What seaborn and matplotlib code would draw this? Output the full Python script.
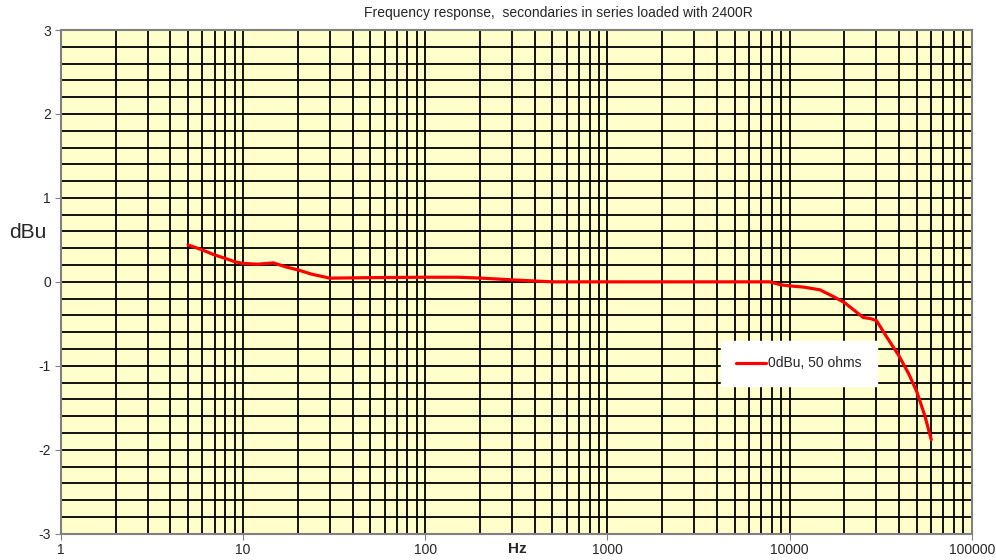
import numpy as np
import pandas as pd
import matplotlib
matplotlib.use("Agg")
import matplotlib.pyplot as plt
import matplotlib.ticker as mticker
import seaborn as sns

# Data
freq_hz = [5, 6, 7, 8, 9, 10, 12, 14.7, 17.4, 20, 24, 30, 50, 100, 150, 200, 300, 400, 500,
           1000, 2000, 5000, 7800, 9000, 10000, 12000, 14700, 17400, 20000,
           23000, 25400, 27700, 30000, 34000, 39600, 45000, 50000, 55400, 60000]
level_dbu = [0.44, 0.38, 0.32, 0.28, 0.24, 0.22, 0.21, 0.226, 0.175, 0.143, 0.09, 0.044, 0.05,
             0.055, 0.055, 0.045, 0.024, 0.01, 0.0,
             0.0, 0.0, 0.0, 0.0, -0.036, -0.048, -0.063, -0.095, -0.175, -0.246,
             -0.35, -0.425, -0.437, -0.46, -0.65, -0.87, -1.09, -1.31, -1.60, -1.88]
series_name = "0dBu, 50 ohms"

df = pd.DataFrame({"Hz": freq_hz, "dBu": level_dbu, "series": series_name})

sns.set_style("white")
plt.rcParams["font.family"] = ["Liberation Sans", "DejaVu Sans"]
plt.rcParams["axes.unicode_minus"] = False

fig = plt.figure(figsize=(9.96, 5.6), dpi=100)
ax = fig.add_axes([60.7 / 996, 1 - 533.7 / 560, 911 / 996, 503.7 / 560])
ax.set_facecolor("#FFFFCC")

sns.lineplot(data=df, x="Hz", y="dBu", hue="series", palette=["#FF0000"],
             linewidth=2.3, ax=ax)
ax.get_lines()[0].set_solid_joinstyle("round")

ax.set_xscale("log")
ax.set_xlim(1, 100000)
ax.set_ylim(-3, 3)
ax.xaxis.set_major_locator(mticker.LogLocator(base=10))
ax.xaxis.set_minor_locator(mticker.LogLocator(base=10, subs=np.arange(2, 10)))
ax.xaxis.set_major_formatter(mticker.FuncFormatter(lambda v, p: f"{int(round(v))}"))
ax.xaxis.set_minor_formatter(mticker.NullFormatter())
ax.yaxis.set_major_locator(mticker.MultipleLocator(1))
ax.yaxis.set_minor_locator(mticker.MultipleLocator(0.2))

ax.grid(which="both", color="black", linewidth=1.3)
ax.set_axisbelow(True)
ax.tick_params(which="major", direction="out", length=4, color="#808080",
               labelsize=10, pad=3, bottom=True, left=True)
ax.tick_params(which="minor", length=0)

for side in ["left", "bottom", "top", "right"]:
    ax.spines[side].set_color("#808080")
    ax.spines[side].set_linewidth(1.5)

ax.set_xlabel("")
ax.set_ylabel("")
fig.text(517 / 996, 1 - 549 / 560, "Hz", fontsize=11, fontweight="bold", ha="center", va="center")
fig.text(28 / 996, 1 - 232 / 560, "dBu", fontsize=15, ha="center", va="center")
fig.text(558 / 996, 1 - 13 / 560, "Frequency response,  secondaries in series loaded with 2400R",
         fontsize=10, ha="center", va="center")

leg = ax.legend(loc="center", bbox_to_anchor=(0.81, 0.338), frameon=True,
                fancybox=False, framealpha=1, edgecolor="white", fontsize=10,
                handlelength=2.2, handletextpad=0.1, borderpad=1.1)
leg.get_frame().set_facecolor("white")

fig.savefig("out.png", dpi=100)
